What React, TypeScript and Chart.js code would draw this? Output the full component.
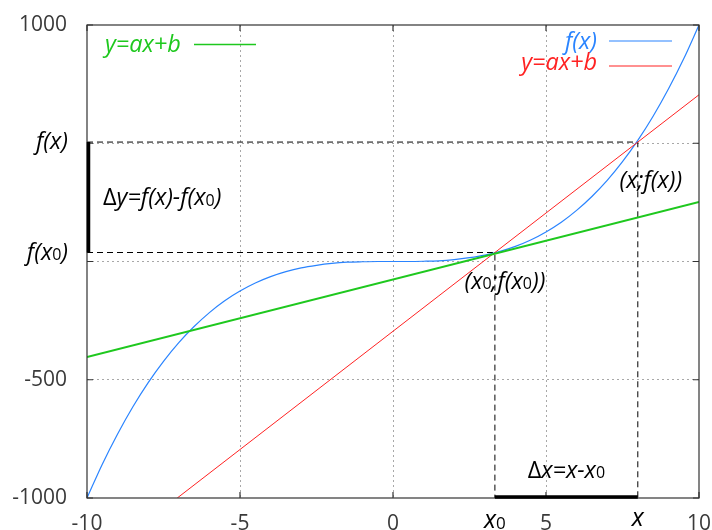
import React, { useEffect, useRef } from 'react';
import { Chart, registerables } from 'chart.js';
Chart.register(...registerables);

// f(x) curve
const curveX = [-10, -9.5, -9, -8.5, -8, -7.5, -7, -6.5, -6, -5.5, -5, -4.5, -4, -3.5, -3, -2.5, -2, -1.5, -1, -0.5, 0, 0.5, 1, 1.5, 2, 2.5, 3, 3.5, 4, 4.5, 5, 5.5, 6, 6.5, 7, 7.5, 8, 8.5, 9, 9.5, 10];
const curveY = [-1000, -857, -729, -614, -512, -422, -343, -275, -216, -166, -125, -91, -64, -43, -27, -16, -8, -3, -1, 0, 0, 0, 1, 3, 8, 16, 27, 43, 64, 91, 125, 166, 216, 275, 343, 422, 512, 614, 729, 857, 1000];
// secant (red) and tangent (green) lines
const secantX = [-7.05, 10];
const secantY = [-1000, 705];
const tangentX = [-10, 10];
const tangentY = [-404, 252];
// marked points
const x0Val = 3.33;
const fx0Val = 38;
const x1Val = 8;
const fx1Val = 505;
// ticks
const xTicks = [-10, -5, 0, 5, 10];
const xTickLabels = ['-10', '-5', '0', '5', '10'];
const yTicks = [-1000, -500, 0, 500, 1000];
const yTickLabels = ['-1000', '-500', '', '', '1000'];

const BLUE = '#2a84ff';
const RED = '#ff2222';
const GREEN = '#1ec81e';
const FONT = '"Open Sans", "DejaVu Sans", sans-serif';

type Part = { t: string; it?: boolean; sub?: boolean };

function rich(ctx: CanvasRenderingContext2D, parts: Part[], x: number, y: number, size: number, color: string, align: 'left' | 'right' | 'center') {
  const fontFor = (p: Part) => `${p.it ? 'italic ' : ''}${p.sub ? Math.round(size * 0.66) : size}px ${FONT}`;
  let w = 0;
  for (const p of parts) { ctx.font = fontFor(p); w += ctx.measureText(p.t).width; }
  let cx = align === 'left' ? x : align === 'right' ? x - w : x - w / 2;
  ctx.save();
  ctx.textBaseline = 'alphabetic';
  ctx.textAlign = 'left';
  ctx.fillStyle = color;
  for (const p of parts) {
    ctx.font = fontFor(p);
    ctx.fillText(p.t, cx, p.sub ? y + size * 0.02 : y);
    cx += ctx.measureText(p.t).width;
  }
  ctx.restore();
}

const annotPlugin = {
  id: 'annot',
  beforeDatasetsDraw(chart: any) {
    const { ctx, chartArea: a, scales: { x, y } } = chart;
    ctx.save();
    ctx.strokeStyle = '#000';
    ctx.lineWidth = 1;
    ctx.setLineDash([6, 4]);
    const px1 = x.getPixelForValue(x1Val), py1 = y.getPixelForValue(fx1Val);
    const px0 = x.getPixelForValue(x0Val), py0 = y.getPixelForValue(fx0Val);
    ctx.beginPath();
    ctx.moveTo(a.left, py1); ctx.lineTo(px1, py1); ctx.lineTo(px1, a.bottom);
    ctx.moveTo(a.left, py0); ctx.lineTo(px0, py0); ctx.lineTo(px0, a.bottom);
    ctx.stroke();
    ctx.restore();
  },
  afterDatasetsDraw(chart: any) {
    const { ctx, chartArea: a, scales: { x, y } } = chart;
    const px1 = x.getPixelForValue(x1Val), py1 = y.getPixelForValue(fx1Val);
    const px0 = x.getPixelForValue(x0Val), py0 = y.getPixelForValue(fx0Val);
    ctx.save();
    // frame
    ctx.strokeStyle = '#333';
    ctx.lineWidth = 1.2;
    ctx.strokeRect(a.left, a.top, a.right - a.left, a.bottom - a.top);
    // inward tick marks
    ctx.beginPath();
    for (const v of xTicks) {
      const p = x.getPixelForValue(v);
      ctx.moveTo(p, a.bottom); ctx.lineTo(p, a.bottom - 6);
      ctx.moveTo(p, a.top); ctx.lineTo(p, a.top + 6);
    }
    for (const v of yTicks) {
      const p = y.getPixelForValue(v);
      ctx.moveTo(a.left, p); ctx.lineTo(a.left + 6, p);
      ctx.moveTo(a.right, p); ctx.lineTo(a.right - 6, p);
    }
    ctx.stroke();
    // thick bars
    ctx.strokeStyle = '#000';
    ctx.lineWidth = 3.5;
    ctx.beginPath();
    ctx.moveTo(a.left + 1.5, py1); ctx.lineTo(a.left + 1.5, py0);
    ctx.moveTo(px0, a.bottom - 1); ctx.lineTo(px1, a.bottom - 1);
    ctx.stroke();
    // legends
    ctx.lineWidth = 1.5;
    ctx.strokeStyle = GREEN;
    ctx.beginPath(); ctx.moveTo(a.left + 107, a.top + 19.5); ctx.lineTo(a.left + 169, a.top + 19.5); ctx.stroke();
    ctx.lineWidth = 1.2;
    ctx.strokeStyle = BLUE;
    ctx.beginPath(); ctx.moveTo(609, a.top + 16); ctx.lineTo(672, a.top + 16); ctx.stroke();
    ctx.strokeStyle = RED;
    ctx.beginPath(); ctx.moveTo(609, a.top + 41); ctx.lineTo(672, a.top + 41); ctx.stroke();
    ctx.restore();

    const S = 23.5;
    rich(ctx, [{ t: 'y=ax+b', it: true }], a.left + 18, a.top + 27, S, GREEN, 'left');
    rich(ctx, [{ t: 'f(x)', it: true }], 597, a.top + 24, S, BLUE, 'right');
    rich(ctx, [{ t: 'y=ax+b', it: true }], 597, a.top + 45, S, RED, 'right');

    // y axis special labels
    rich(ctx, [{ t: 'f(x)', it: true }], 68, py1 + 7, S, '#000', 'right');
    rich(ctx, [{ t: 'f(x', it: true }, { t: '0', sub: true }, { t: ')', it: true }], 68, py0 + 7, S, '#000', 'right');
    // x axis special labels
    rich(ctx, [{ t: 'x', it: true }, { t: '0', sub: true }], px0, a.bottom + 30, 25, '#000', 'center');
    rich(ctx, [{ t: 'x', it: true }], px1, a.bottom + 28, 25, '#000', 'center');

    // annotations
    rich(ctx, [{ t: 'Δ' }, { t: 'y=f(x)-f(x', it: true }, { t: '0', sub: true }, { t: ')', it: true }], a.left + 16, (py0 + py1) / 2 + 8, S, '#000', 'left');
    rich(ctx, [{ t: '(x', it: true }, { t: '0', sub: true }, { t: ';f(x', it: true }, { t: '0', sub: true }, { t: '))', it: true }], px0 + 10, py0 + 36, S, '#000', 'center');
    rich(ctx, [{ t: '(x;f(x))', it: true }], px1 + 13, py1 + 46, S, '#000', 'center');
    rich(ctx, [{ t: 'Δ' }, { t: 'x=x-x', it: true }, { t: '0', sub: true }], (px0 + px1) / 2 + 0, a.bottom - 20, S, '#000', 'center');
  },
};

const noPad = (s: any) => { s.paddingTop = 0; s.paddingBottom = 0; s.paddingLeft = 0; s.paddingRight = 0; };

export default function App() {
  const ref = useRef<HTMLCanvasElement>(null);
  useEffect(() => {
    const pts = (xs: number[], ys: number[]) => xs.map((v, i) => ({ x: v, y: ys[i] }));
    const chart = new Chart(ref.current!, {
      type: 'line',
      data: {
        datasets: [
          { data: pts(tangentX, tangentY), borderColor: GREEN, borderWidth: 2, pointRadius: 0 },
          { data: pts(secantX, secantY), borderColor: RED, borderWidth: 1, pointRadius: 0 },
          { data: pts(curveX, curveY), borderColor: BLUE, borderWidth: 1.2, pointRadius: 0, cubicInterpolationMode: 'monotone' },
        ],
      },
      options: {
        animation: false,
        responsive: false,
        layout: { padding: { top: 25, right: 13, left: 0, bottom: 0 } },
        plugins: { legend: { display: false }, tooltip: { enabled: false } },
        scales: {
          x: {
            type: 'linear', min: -10, max: 10,
            afterBuildTicks: (s: any) => { s.ticks = xTicks.map((v) => ({ value: v })); },
            afterFit: (s: any) => { s.height = 32; noPad(s); },
            ticks: {
              padding: 13, color: '#3a3a3a', font: { family: FONT, size: 21 }, maxRotation: 0,
              callback: (v: any) => { const i = xTicks.indexOf(Number(v)); return i >= 0 ? xTickLabels[i] : ''; },
            },
            grid: {
              drawTicks: false, lineWidth: 1,
              color: (c: any) => (c.tick && (c.tick.value === -10 || c.tick.value === 10) ? 'rgba(0,0,0,0)' : '#a8a8a8'),
            },
            border: { display: false, dash: [2, 3] },
          },
          y: {
            type: 'linear', min: -1000, max: 1000,
            afterBuildTicks: (s: any) => { s.ticks = yTicks.map((v) => ({ value: v })); },
            afterFit: (s: any) => { s.width = 87; noPad(s); },
            ticks: {
              padding: 20, color: '#3a3a3a', font: { family: FONT, size: 21 },
              callback: (v: any) => { const i = yTicks.indexOf(Number(v)); return i >= 0 ? yTickLabels[i] : ''; },
            },
            grid: {
              drawTicks: false, lineWidth: 1,
              color: (c: any) => (c.tick && (c.tick.value === -1000 || c.tick.value === 1000) ? 'rgba(0,0,0,0)' : '#a8a8a8'),
            },
            border: { display: false, dash: [2, 3] },
          },
        },
      } as any,
      plugins: [annotPlugin],
    });
    return () => chart.destroy();
  }, []);
  return (
    <div style={{ position: 'absolute', left: 0, top: 0, width: 712, height: 530, background: '#fff' }}>
      <canvas ref={ref} width={712} height={530} />
    </div>
  );
}
